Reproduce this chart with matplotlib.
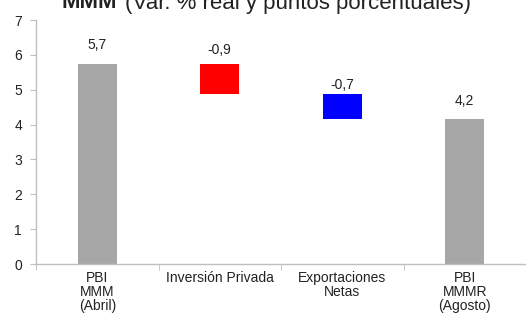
"""Waterfall chart: PBI MMM contributions."""

import matplotlib

matplotlib.use("Agg")
import matplotlib.pyplot as plt
from matplotlib.ticker import FixedLocator

plt.rcParams["font.family"] = ["Liberation Sans", "DejaVu Sans"]

categories = ["PBI\nMMM\n(Abril)", "Inversión Privada", "Exportaciones\nNetas", "PBI\nMMMR\n(Agosto)"]
start_value = 5.75
changes = [-0.87, -0.72]
end_value = 4.17
value_labels = ["5,7", "-0,9", "-0,7", "4,2"]
colors = ["#A6A6A6", "#FF0000", "#0000FF", "#A6A6A6"]
y_ticks = [0, 1, 2, 3, 4, 5, 6, 7]

# build floating bars from the running total
bottoms = [0.0]
heights = [start_value]
level = start_value
for c in changes:
    bottoms.append(level + c)
    heights.append(-c)
    level += c
bottoms.append(0.0)
heights.append(end_value)

fig = plt.figure(figsize=(5.26, 3.2), dpi=100)
ax = fig.add_axes([36 / 526, 56 / 320, 490 / 526, 244 / 320])

x = list(range(len(categories)))
ax.bar(x, heights, bottom=bottoms, width=0.32, color=colors, zorder=2)

pads = [8.5, 4.5, 1.5, 8]  # label gap above each bar, points
for xi, b, h, lab, p in zip(x, bottoms, heights, value_labels, pads):
    ax.annotate(lab, (xi, b + h), xytext=(0, p), textcoords="offset points",
                ha="center", va="bottom", fontsize=10, color="#222222")

ax.set_xlim(-0.5, len(categories) - 0.5)
ax.set_ylim(0, 7)
ax.set_yticks(y_ticks)
ax.set_xticks(x)
ax.set_xticklabels(categories, fontsize=10, linespacing=1.0, color="#222222")
ax.xaxis.set_minor_locator(FixedLocator([i - 0.5 for i in range(len(categories) + 1)]))
ax.tick_params(axis="x", which="major", length=0, pad=5)
ax.tick_params(axis="x", which="minor", length=4, color="#BFBFBF", direction="out")
ax.tick_params(axis="y", length=4, color="#BFBFBF", labelsize=10, labelcolor="#222222", pad=6)

for side in ("top", "right"):
    ax.spines[side].set_visible(False)
for side in ("left", "bottom"):
    ax.spines[side].set_color("#BFBFBF")
    ax.spines[side].set_linewidth(1.0)

# title, clipped at the top in the original
fig.text(0.117, 1 - 8.5 / 320, "MMM", fontsize=16, fontweight="bold",
         ha="left", va="baseline", color="#222222")
fig.text(0.237, 1 - 8.5 / 320, "(Var. % real y puntos porcentuales)", fontsize=16,
         ha="left", va="baseline", color="#222222")

fig.savefig("out.png", dpi=100)
plt.close(fig)
